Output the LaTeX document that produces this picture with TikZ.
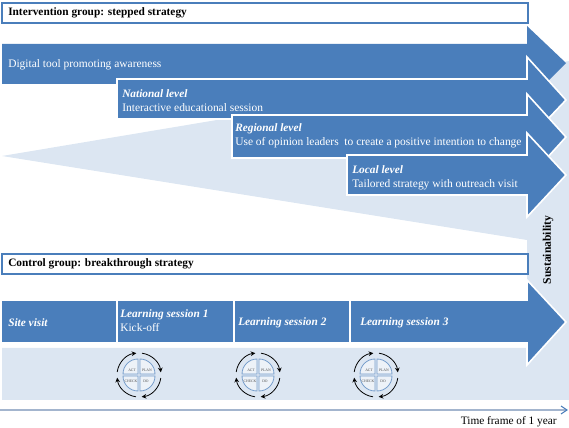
\documentclass[tikz,border=0pt]{standalone}
\usepackage{fontspec}
\setmainfont{Liberation Serif}
\usepackage{xcolor}
\usetikzlibrary{arrows.meta,positioning}
\definecolor{barblue}{HTML}{4A7EBB}
\definecolor{paleblue}{HTML}{DCE6F2}
\definecolor{linegray}{HTML}{A3B5CE}

\begin{document}
\begin{tikzpicture}[
    x=0.75pt, y=-0.75pt,
    title/.style={rectangle, draw=barblue, fill=white, line width=1.4pt},
    titletext/.style={anchor=west, inner sep=0pt, font=\fontsize{8.5}{9}\selectfont\bfseries},
    bar/.style={fill=barblue, draw=white, line width=1.2pt, line join=miter},
    shade/.style={fill=paleblue, draw=none},
    plain/.style={anchor=west, inner sep=0pt, text=white, font=\fontsize{8.6}{9}\selectfont},
    level/.style={anchor=west, inner sep=0pt, text=white, font=\fontsize{8.5}{9}\selectfont\bfseries\itshape},
    quarter/.style={fill=paleblue!50!white, draw=barblue!75, line width=0.6pt},
    cyclearc/.style={-{Stealth[length=3.5pt,width=3.5pt]}, line width=0.6pt, black},
    pdca/.style={inner sep=0pt, text=black!70, font=\fontsize{2.8}{3}\selectfont}
]
\useasboundingbox (0,0) rectangle (569,428);

% Pale background shapes
\fill[shade] (2,156) -- (569,61) -- (569,400) -- (2,400) -- (2,348) -- (527,348) -- (527,240) -- cycle;

% Group title boxes
\node[title, minimum width=394pt, minimum height=15pt, anchor=north west] (intervention) at (1.5,2) {};
\node[title, minimum width=394pt, minimum height=15pt, anchor=north west] (control) at (1.5,253) {};
\node[titletext] (interventiontext) at (8,13) {Intervention group: stepped strategy};
\node[titletext] (controltext) at (8,264) {Control group: breakthrough strategy};

% Stepped arrows
\fill[barblue] (2,44) -- (527,44) -- (527,26) -- (566,63) -- (527,102) -- (527,84) -- (2,84) -- cycle;
\draw[bar] (117,79) -- (527,79) -- (527,57) -- (566,100) -- (527,141) -- (527,119) -- (117,119) -- cycle;
\draw[bar] (232,115) -- (527,115) -- (527,94) -- (566,137) -- (527,180) -- (527,158) -- (232,158) -- cycle;
\draw[bar] (347,155) -- (527,155) -- (527,133) -- (566,175) -- (527,217) -- (527,195) -- (347,195) -- cycle;

% Stepped arrow labels
\node[plain] (digital) at (8,65) {Digital tool promoting awareness};
\node[plain] (interactive) at (122,108) {Interactive educational session};
\node[level] (national) at (122,94) {National level};
\node[level] (regional) at (235,129) {Regional level};
\node[plain] (opinion) at (235,143) {Use of opinion leaders\ \ to create a positive intention to change};
\node[level] (local) at (352,170) {Local level};
\node[plain] (tailored) at (352,185) {Tailored strategy with outreach visit};

% Breakthrough arrow
\draw[bar] (2,300) -- (527,300) -- (527,280) -- (566,322) -- (527,365) -- (527,343) -- (2,343);
\draw[white, line width=1.2pt] (117,300) -- (117,343);
\draw[white, line width=1.2pt] (234,300) -- (234,343);
\draw[white, line width=1.2pt] (350,300) -- (350,343);
\node[level] (sitevisit) at (8,323) {Site visit};
\node[level] (session1) at (120,315) {Learning session 1};
\node[plain] (kickoff) at (120,328) {Kick-off};
\node[level] (session2) at (238,323) {Learning session 2};
\node[level] (session3) at (360,323) {Learning session 3};

% PDCA cycles
\foreach \cx/\cy in {139/375, 258/375, 376/375} {
  \begin{scope}[shift={(\cx,\cy)}, yscale=-1]
    \draw[quarter] (-1,1) -- (-16,1) arc[start angle=180, end angle=90, radius=15] -- cycle;
    \draw[quarter] (1,1) -- (1,16) arc[start angle=90, end angle=0, radius=15] -- cycle;
    \draw[quarter] (1,-1) -- (16,-1) arc[start angle=0, end angle=-90, radius=15] -- cycle;
    \draw[quarter] (-1,-1) -- (-1,-16) arc[start angle=-90, end angle=-180, radius=15] -- cycle;
    \node[pdca] at (-7,5) {ACT};
    \node[pdca] at (8,5) {PLAN};
    \node[pdca] at (-8,-6) {CHECK};
    \node[pdca] at (7,-6) {DO};
    \draw[cyclearc] (172:22) arc[start angle=172, end angle=97, radius=22];
    \draw[cyclearc] (82:22) arc[start angle=82, end angle=7, radius=22];
    \draw[cyclearc] (-8:22) arc[start angle=-8, end angle=-83, radius=22];
    \draw[cyclearc] (-98:22) arc[start angle=-98, end angle=-173, radius=22];
  \end{scope}
}

% Side label and time line
\node[rotate=90, inner sep=0pt, font=\fontsize{8.7}{9}\selectfont\bfseries] (sustain) at (548,250) {Sustainability};
\coordinate (timestart) at (0,410);
\coordinate (timeend) at (567,410);
\draw[linegray, line width=1.4pt] (timestart) -- (timeend);
\draw[barblue, line width=0.8pt] (561,406) -- (timeend) -- (561,414);
\node[anchor=east, inner sep=0pt, font=\fontsize{8.5}{9}\selectfont] (timeframe) at (557,422) {Time frame of 1 year};
\end{tikzpicture}
\end{document}
